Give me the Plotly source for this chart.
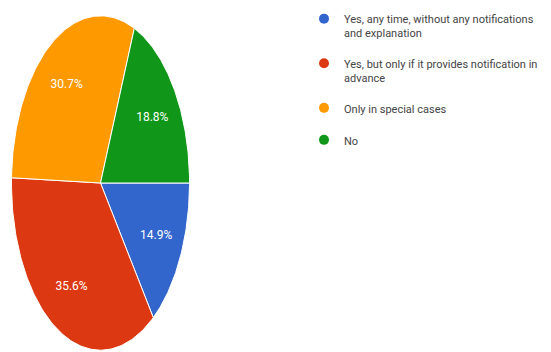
import numpy as np
import plotly.graph_objects as go

labels = [
    "Yes, any time, without any notifications<br>and explanation",
    "Yes, but only if it provides notification in<br>advance",
    "Only in special cases",
    "No",
]
values = [14.9, 35.6, 30.7, 18.8]
colors = ["#3366cc", "#dc3912", "#ff9900", "#109618"]

fig = go.Figure()

total = sum(values)
cum = 0.0
lx, ly, lt = [], [], []
for lab, v, c in zip(labels, values, colors):
    a0 = -360.0 * cum / total
    a1 = -360.0 * (cum + v) / total
    th = np.radians(np.linspace(a0, a1, 120))
    xs = np.concatenate([[0], np.cos(th), [0]])
    ys = np.concatenate([[0], np.sin(th), [0]])
    fig.add_trace(go.Scatter(x=xs, y=ys, fill="toself", fillcolor=c, mode="lines",
                             line=dict(color="white", width=1), hoverinfo="skip",
                             showlegend=False))
    mid = np.radians((a0 + a1) / 2)
    lx.append(0.7 * np.cos(mid))
    ly.append(0.7 * np.sin(mid))
    lt.append(f"{v}%")
    cum += v

fig.add_trace(go.Scatter(x=lx, y=ly, text=lt, mode="text",
                         textfont=dict(family="Roboto", size=12, color="white"),
                         hoverinfo="skip", showlegend=False))

for i, (lab, c) in enumerate(zip(labels, colors)):
    fig.add_trace(go.Scatter(x=[None], y=[None], mode="markers", name=lab,
                             legendgroup=f"g{i}",
                             marker=dict(symbol="circle", size=10, color=c)))

fig.update_layout(
    width=551, height=352,
    margin=dict(l=0, r=0, t=0, b=0),
    paper_bgcolor="white", plot_bgcolor="white",
    xaxis=dict(domain=[11/551, 190/551], range=[-1.005, 1.005], visible=False, fixedrange=True),
    yaxis=dict(domain=[1/352, 337/352], range=[-1.005, 1.005], visible=False, fixedrange=True),
    legend=dict(x=304/551, y=1 - 5/352, xanchor="left", yanchor="top",
                font=dict(family="Roboto", size=11, color="#444444"),
                tracegroupgap=13, valign="top", itemwidth=30, bgcolor="rgba(0,0,0,0)"),
    showlegend=True,
)

fig.write_html("out.html")
